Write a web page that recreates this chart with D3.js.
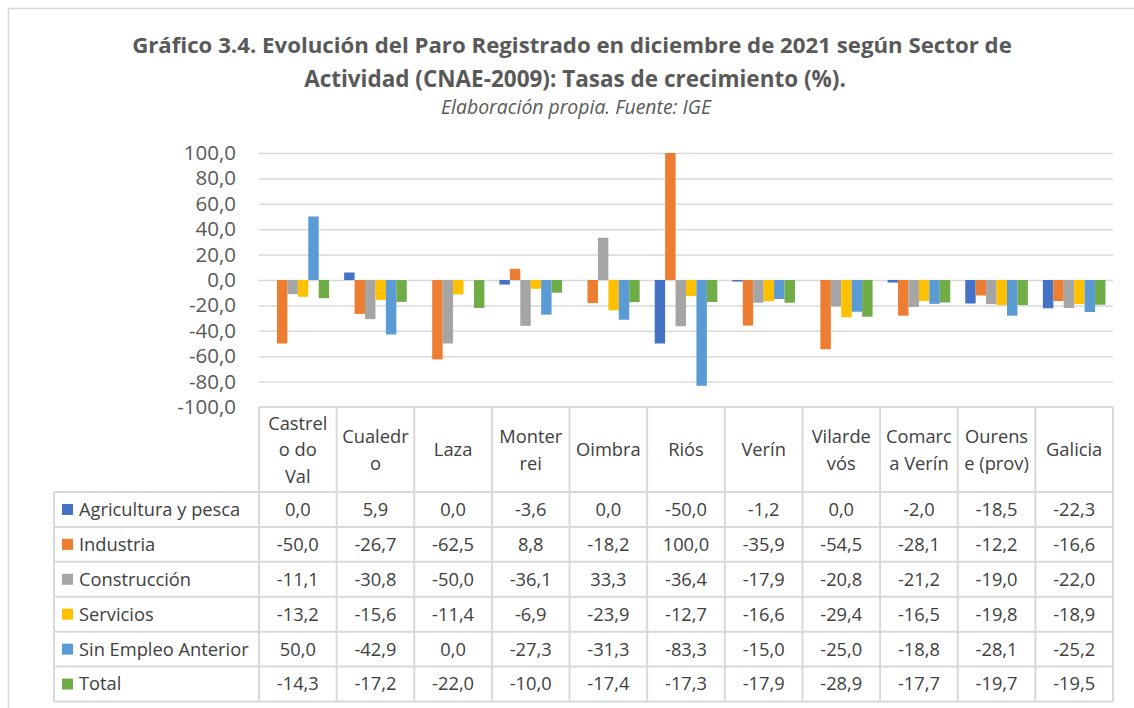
<!DOCTYPE html>
<html><head><meta charset="utf-8">
<script src="https://cdn.jsdelivr.net/npm/d3@7"></script>
<style>
html,body{margin:0;padding:0;background:#fff;}
svg{display:block;}
text{font-family:"Open Sans",Lato,sans-serif;}
</style></head>
<body><svg id="chart" width="1134" height="708"></svg>
<script>
const categories = ["Castrelo do Val","Cualedro","Laza","Monterrei","Oimbra","Riós","Verín","Vilardevós","Comarca Verín","Ourense (prov)","Galicia"];
const categoryLines = [["Castrel","o do","Val"],["Cualedr","o"],["Laza"],["Monter","rei"],["Oimbra"],["Riós"],["Verín"],["Vilarde","vós"],["Comarc","a Verín"],["Ourens","e (prov)"],["Galicia"]];
const seriesNames = ["Agricultura y pesca","Industria","Construcción","Servicios","Sin Empleo Anterior","Total"];
const agricultura = [0.0, 5.9, 0.0, -3.6, 0.0, -50.0, -1.2, 0.0, -2.0, -18.5, -22.3];
const industria = [-50.0, -26.7, -62.5, 8.8, -18.2, 100.0, -35.9, -54.5, -28.1, -12.2, -16.6];
const construccion = [-11.1, -30.8, -50.0, -36.1, 33.3, -36.4, -17.9, -20.8, -21.2, -19.0, -22.0];
const servicios = [-13.2, -15.6, -11.4, -6.9, -23.9, -12.7, -16.6, -29.4, -16.5, -19.8, -18.9];
const sinEmpleo = [50.0, -42.9, 0.0, -27.3, -31.3, -83.3, -15.0, -25.0, -18.8, -28.1, -25.2];
const total = [-14.3, -17.2, -22.0, -10.0, -17.4, -17.3, -17.9, -28.9, -17.7, -19.7, -19.5];
const yTicks = [100, 80, 60, 40, 20, 0, -20, -40, -60, -80, -100];
const colors = ["#4472C4","#ED7D31","#A5A5A5","#FFC000","#5B9BD5","#70AD47"];

const seriesValues = [agricultura, industria, construccion, servicios, sinEmpleo, total];
const svg = d3.select("#chart");
const fmt = v => d3.format(".1f")(v).replace("−", "-").replace(".", ",");

// fit a text element to a target width by adjusting its font size
function fitWidth(sel, target) {
  const fs = +sel.attr("font-size");
  const w = sel.node().getComputedTextLength();
  if (w > 0) sel.attr("font-size", fs * target / w);
  return sel;
}

// outer frame
svg.append("rect").attr("x", 8.5).attr("y", 8.5).attr("width", 1140).attr("height", 720)
  .attr("fill", "none").attr("stroke", "#D9D9D9").attr("stroke-width", 1.5);

// title
const tc = "#595959";
fitWidth(svg.append("text").attr("x", 572).attr("y", 53).attr("text-anchor", "middle")
  .attr("font-size", 22).attr("font-weight", "bold").attr("fill", tc)
  .text("Gráfico 3.4. Evolución del Paro Registrado en diciembre de 2021 según Sector de"), 880);
fitWidth(svg.append("text").attr("x", 575).attr("y", 87).attr("text-anchor", "middle")
  .attr("font-size", 22).attr("font-weight", "bold").attr("fill", tc)
  .text("Actividad (CNAE-2009): Tasas de crecimiento (%)."), 542);
fitWidth(svg.append("text").attr("x", 576).attr("y", 114).attr("text-anchor", "middle")
  .attr("font-size", 16).attr("font-style", "italic").attr("fill", tc)
  .text("Elaboración propia. Fuente: IGE"), 270);

const pLeft = 259, pRight = 1113, pTop = 153, pBottom = 407;
const x = d3.scaleBand().domain(categories).range([pLeft, pRight]).paddingInner(0).paddingOuter(0);
const y = d3.scaleLinear().domain([-100, 100]).range([pBottom, pTop]);
const inner = d3.scaleBand().domain(d3.range(6)).range([0, x.bandwidth()]).paddingInner(0).paddingOuter(0.72);

// gridlines + y labels
const yAxis = d3.axisLeft(y).tickValues(yTicks).tickSize(-(pRight - pLeft)).tickFormat(fmt);
const gy = svg.append("g").attr("transform", `translate(${pLeft},0)`).call(yAxis);
gy.select(".domain").remove();
gy.selectAll(".tick line").attr("stroke", "#D9D9D9").attr("stroke-width", 1.5);
gy.selectAll(".tick text").attr("x", -23).attr("font-size", 20.5).attr("fill", tc)
  .attr("font-family", "'Open Sans', Lato, sans-serif");
gy.selectAll(".tick").filter(d => d === -100).select("line").remove();

// bars
seriesValues.forEach((vals, s) => {
  svg.append("g").selectAll("rect").data(vals).join("rect")
    .attr("x", (d, i) => x(categories[i]) + inner(s))
    .attr("width", inner.bandwidth())
    .attr("y", d => y(Math.max(0, d)))
    .attr("height", d => Math.abs(y(d) - y(0)))
    .attr("fill", colors[s]);
});

// data table
const headerBottom = 492;
const tableBottom = 701.5;
const rowH = (tableBottom - headerBottom) / 6;
const tableLeft = 54;
const lineC = "#D9D9D9";
const tbl = svg.append("g").attr("stroke", lineC).attr("stroke-width", 2);
tbl.append("line").attr("x1", pLeft).attr("x2", pRight).attr("y1", pBottom).attr("y2", pBottom);
for (let r = 0; r <= 6; r++) {
  const yy = headerBottom + r * rowH;
  tbl.append("line").attr("x1", tableLeft).attr("x2", pRight).attr("y1", yy).attr("y2", yy);
}
categories.forEach(c => {
  tbl.append("line").attr("x1", x(c)).attr("x2", x(c)).attr("y1", pBottom).attr("y2", tableBottom);
});
tbl.append("line").attr("x1", pRight).attr("x2", pRight).attr("y1", pBottom).attr("y2", tableBottom);
tbl.append("line").attr("x1", tableLeft).attr("x2", tableLeft).attr("y1", headerBottom).attr("y2", tableBottom);

// header labels
const txtC = "#404040";
const tfs = 18.3;
categoryLines.forEach((lines, i) => {
  const cx = x(categories[i]) + x.bandwidth() / 2;
  const lh = 26.5;
  const cy = (pBottom + headerBottom) / 2 + 0.5;
  lines.forEach((ln, j) => {
    svg.append("text").attr("x", cx).attr("y", cy + (j - (lines.length - 1) / 2) * lh)
      .attr("dy", "0.35em").attr("text-anchor", "middle").attr("font-size", tfs).attr("fill", txtC)
      .text(ln);
  });
});

// rows
seriesNames.forEach((name, s) => {
  const cy = headerBottom + s * rowH + rowH / 2;
  svg.append("rect").attr("x", 62).attr("y", cy - 5.5).attr("width", 11).attr("height", 11).attr("fill", colors[s]);
  svg.append("text").attr("x", 79).attr("y", cy).attr("dy", "0.35em").attr("font-size", tfs).attr("fill", txtC).text(name);
  seriesValues[s].forEach((v, i) => {
    svg.append("text").attr("x", x(categories[i]) + x.bandwidth() / 2).attr("y", cy).attr("dy", "0.35em")
      .attr("text-anchor", "middle").attr("font-size", tfs).attr("fill", txtC).text(fmt(v));
  });
});
</script></body></html>
